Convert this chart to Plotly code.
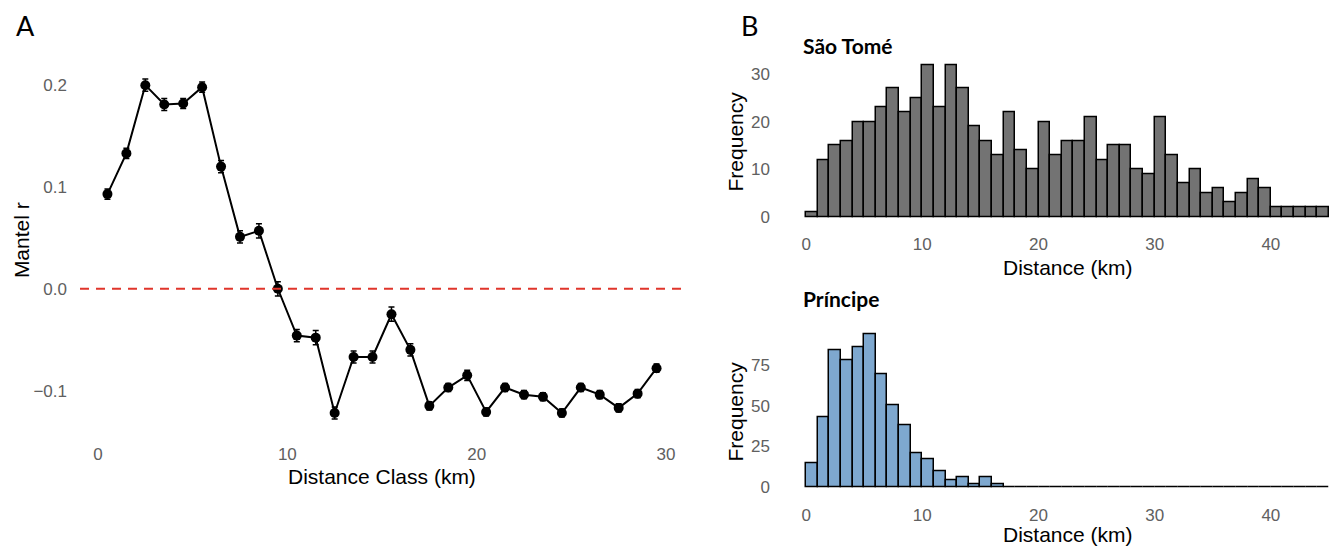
import plotly.graph_objects as go

# ---------------- Data ----------------
dist_class = [0.5, 1.5, 2.5, 3.5, 4.5, 5.5, 6.5, 7.5, 8.5, 9.5,
              10.5, 11.5, 12.5, 13.5, 14.5, 15.5, 16.5, 17.5, 18.5, 19.5,
              20.5, 21.5, 22.5, 23.5, 24.5, 25.5, 26.5, 27.5, 28.5, 29.5]
mantel_r = [0.093, 0.133, 0.200, 0.181, 0.182, 0.198, 0.120, 0.051, 0.057, 0.000,
            -0.046, -0.048, -0.122, -0.067, -0.067, -0.025, -0.060, -0.115, -0.097, -0.085,
            -0.121, -0.097, -0.104, -0.106, -0.122, -0.097, -0.104, -0.117, -0.103, -0.078]
mantel_err = [0.005, 0.005, 0.006, 0.006, 0.005, 0.005, 0.006, 0.006, 0.007, 0.007,
              0.006, 0.007, 0.006, 0.006, 0.006, 0.007, 0.006, 0.004, 0.004, 0.005,
              0.004, 0.004, 0.004, 0.004, 0.004, 0.004, 0.004, 0.004, 0.004, 0.004]

bin_centers = [0.5, 1.5, 2.5, 3.5, 4.5, 5.5, 6.5, 7.5, 8.5, 9.5,
               10.5, 11.5, 12.5, 13.5, 14.5, 15.5, 16.5, 17.5, 18.5, 19.5,
               20.5, 21.5, 22.5, 23.5, 24.5, 25.5, 26.5, 27.5, 28.5, 29.5,
               30.5, 31.5, 32.5, 33.5, 34.5, 35.5, 36.5, 37.5, 38.5, 39.5,
               40.5, 41.5, 42.5, 43.5, 44.5]
sao_tome_counts = [1, 12, 15, 16, 20, 20, 23, 27, 22, 25,
                   32, 23, 32, 27, 19, 16, 13, 22, 14, 10,
                   20, 13, 16, 16, 21, 12, 15, 15, 10, 9,
                   21, 13, 7, 10, 5, 6, 3, 5, 8, 6,
                   2, 2, 2, 2, 2]
principe_counts = [15, 43, 84, 78, 86, 94, 69, 50, 38, 21,
                   17, 10, 4, 6, 2, 6, 2, 0, 0, 0,
                   0, 0, 0, 0, 0, 0, 0, 0, 0, 0,
                   0, 0, 0, 0, 0, 0, 0, 0, 0, 0,
                   0, 0, 0, 0, 0]

xticks_a = [0, 10, 20, 30]
yticks_a = [-0.1, 0.0, 0.1, 0.2]
xticks_b = [0, 10, 20, 30, 40]
yticks_st = [0, 10, 20, 30]
yticks_pr = [0, 25, 50, 75]

# ---------------- Layout geometry ----------------
W, H = 1343, 549
def px_x(p):
    return p / W
def px_y(p):
    return (H - p) / H

FONT = "Liberation Sans, Arial, sans-serif"
TICK_COLOR = "#606060"
TICK_SIZE = 17
TITLE_SIZE = 21

fig = go.Figure()

# Panel A
fig.add_trace(go.Scatter(
    x=dist_class, y=mantel_r,
    mode="lines+markers",
    line=dict(color="black", width=2),
    marker=dict(color="black", size=10),
    error_y=dict(type="data", array=mantel_err, color="black", thickness=1.5, width=3),
    xaxis="x", yaxis="y", showlegend=False, hoverinfo="x+y",
))

# Panel B top: São Tomé
fig.add_trace(go.Bar(
    x=bin_centers, y=sao_tome_counts, width=1,
    marker=dict(color="#737373", line=dict(color="black", width=1.5)),
    xaxis="x2", yaxis="y2", showlegend=False,
))

# Panel B bottom: Príncipe
fig.add_trace(go.Bar(
    x=bin_centers, y=principe_counts, width=1,
    marker=dict(color="#7EA8CF", line=dict(color="black", width=1.5)),
    xaxis="x3", yaxis="y3", showlegend=False,
))

common_axis = dict(showgrid=False, zeroline=False, showline=False, ticks="",
                   tickfont=dict(family=FONT, size=TICK_SIZE, color=TICK_COLOR))

fig.update_layout(
    width=W, height=H,
    margin=dict(l=0, r=0, t=0, b=0),
    paper_bgcolor="white", plot_bgcolor="white",
    bargap=0,
    font=dict(family=FONT),
    xaxis=dict(domain=[px_x(80), px_x(684)], range=[-0.95, 30.95],
               tickvals=xticks_a, anchor="y", ticklabelstandoff=6, **common_axis),
    yaxis=dict(domain=[px_y(438), px_y(63)], range=[-0.145, 0.222],
               tickvals=yticks_a, tickformat=".1f", anchor="x", ticklabelstandoff=12,
               **common_axis),
    xaxis2=dict(domain=[px_x(780), 1.0], range=[-2.25, 46.21],
                tickvals=xticks_b, anchor="y2", ticklabelstandoff=8, **common_axis),
    yaxis2=dict(domain=[px_y(225.3), px_y(57.5)], range=[-1.6, 33.6],
                tickvals=yticks_st, anchor="x2", ticklabelstandoff=9, **common_axis),
    xaxis3=dict(domain=[px_x(780), 1.0], range=[-2.25, 46.21],
                tickvals=xticks_b, anchor="y3", ticklabelstandoff=8, **common_axis),
    yaxis3=dict(domain=[px_y(496.7), px_y(327.4)], range=[-4.7, 98.7],
                tickvals=yticks_pr, anchor="x3", ticklabelstandoff=9, **common_axis),
)

# Zero reference line in panel A
fig.add_hline(y=0, line=dict(color="#E0352B", width=2, dash="9px,7px"),
              xref="x", yref="y")

# Annotations: panel letters, axis titles, subplot titles
ann = []
def add_text(text, x, y, size, color="black", angle=0, bold=False, family=FONT,
             xanchor="center", yanchor="middle"):
    ann.append(dict(text=("<b>%s</b>" % text) if bold else text,
                    x=px_x(x), y=px_y(y), xref="paper", yref="paper",
                    showarrow=False, textangle=angle,
                    xanchor=xanchor, yanchor=yanchor,
                    font=dict(family=family, size=size, color=color)))

add_text("A", 14, 26, 27, family="Lato, Liberation Sans, sans-serif", xanchor="left")
add_text("B", 739, 26, 27, family="Lato, Liberation Sans, sans-serif", xanchor="left")
add_text("Mantel r", 21, 241, TITLE_SIZE, angle=-90)
add_text("Distance Class (km)", 382, 478, TITLE_SIZE)
add_text("Frequency", 735, 142, TITLE_SIZE, angle=-90)
add_text("Distance (km)", 1068, 268, TITLE_SIZE)
add_text("Frequency", 735, 413, TITLE_SIZE, angle=-90)
add_text("Distance (km)", 1068, 536, TITLE_SIZE)
add_text("São Tomé", 801, 46, 21, bold=True, family="Lato, Open Sans, sans-serif", xanchor="left")
add_text("Príncipe", 801, 300, 21, bold=True, family="Lato, Open Sans, sans-serif", xanchor="left")

fig.update_layout(annotations=ann)

fig.write_html("out.html",
               config={"displayModeBar": False},
               post_script="document.body.style.margin='0';document.body.style.padding='0';")
